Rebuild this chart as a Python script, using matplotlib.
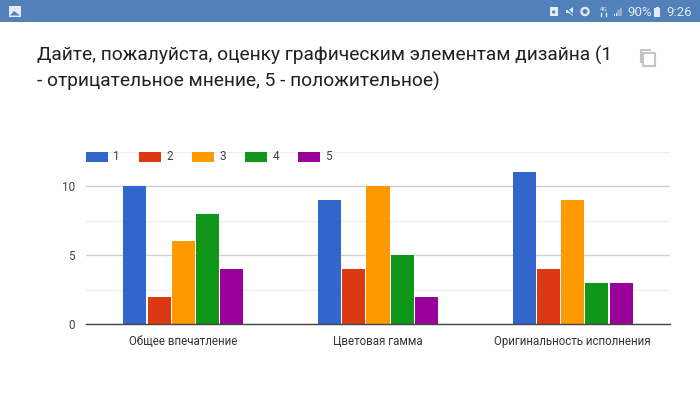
import numpy as np
import matplotlib
matplotlib.use("Agg")
import matplotlib.pyplot as plt
from matplotlib.patches import Rectangle, Circle, Polygon

plt.rcParams['font.family'] = ['Roboto', 'DejaVu Sans']

# chart data
categories = ["Общее впечатление", "Цветовая гамма", "Оригинальность исполнения"]
series_names = ["1", "2", "3", "4", "5"]
colors = ["#3366cc", "#dc3912", "#ff9900", "#109618", "#990099"]
values_1 = [10, 9, 11]
values_2 = [2, 4, 4]
values_3 = [6, 10, 9]
values_4 = [8, 5, 3]
values_5 = [4, 2, 3]
all_values = [values_1, values_2, values_3, values_4, values_5]
y_ticks = [0, 5, 10]
minor_ticks = [2.5, 7.5, 12.5]

title_lines = ["Дайте, пожалуйста, оценку графическим элементам дизайна (1",
               "- отрицательное мнение, 5 - положительное)"]

W, H = 700, 393
bar_color = "#5280b8"
fig = plt.figure(figsize=(W / 100, H / 100), dpi=100, facecolor="white")

# overlay in pixel coords for the phone screen parts
bg = fig.add_axes([0, 0, 1, 1])
bg.set_xlim(0, W)
bg.set_ylim(H, 0)
bg.axis("off")
bg.set_zorder(2)  # legend has to sit on top of the top gridline

# status bar
bg.add_patch(Rectangle((0, 0), W, 22, color=bar_color, lw=0))
icon = "#e4ebf4"
bg.add_patch(Rectangle((9, 6), 12, 10.5, color=icon, lw=0))
bg.add_patch(Polygon([[10, 15.5], [14, 11], [20, 15.5]], color=bar_color, lw=0))
bg.add_patch(Rectangle((550, 7), 7.5, 9, color=icon, lw=0))
bg.add_patch(Circle((553.7, 12), 1.6, color=bar_color, lw=0))
bg.add_patch(Polygon([[566, 10], [569, 10], [573, 7], [573, 16], [569, 13], [566, 13]], color=icon, lw=0))
bg.plot([565, 575], [7, 16], color=bar_color, lw=1)
bg.add_patch(Circle((585, 11.5), 3.6, fc=bar_color, ec=icon, lw=1.6))
bg.text(604, 9.5, "4G", color=icon, fontsize=4.5, ha="center", va="center")
bg.plot([601, 601], [13, 16], color=icon, lw=1)
bg.plot([606, 606], [13, 16], color=icon, lw=1)
bg.add_patch(Polygon([[617, 16], [622, 16], [622, 7], [617, 11]], color="#8fadd0", lw=0))
bg.add_patch(Rectangle((614, 14), 1, 2, color=icon, lw=0))
bg.add_patch(Rectangle((616, 12.5), 1, 3.5, color=icon, lw=0))
bg.text(627, 12, "90%", color=icon, fontsize=9.5, ha="left", va="center")
bg.add_patch(Rectangle((654, 8), 6, 9, color=icon, lw=0))
bg.add_patch(Rectangle((655.5, 6.8), 3, 1.5, color=icon, lw=0))
bg.text(666, 12, "9:26", color=icon, fontsize=9.5, ha="left", va="center")

# title
bg.text(37, 61, title_lines[0], fontsize=13.75, color="#212121", va="baseline", ha="left")
bg.text(37, 87, title_lines[1], fontsize=13.75, color="#212121", va="baseline", ha="left")

# copy icon
bg.add_patch(Rectangle((643, 53), 11.5, 12.5, fc="white", ec="#c4c4c4", lw=1.5))
bg.plot([640.5, 640.5, 650], [62, 49.5, 49.5], color="#c4c4c4", lw=1.5)

# legend
for i, name in enumerate(series_names):
    x = 86 + i * 53
    bg.add_patch(Rectangle((x, 152), 22, 10, color=colors[i], lw=0))
    bg.text(x + 27.5, 157, name, fontsize=8.5, color="#444444", va="center", ha="left")

# the chart itself
ax = fig.add_axes([86 / W, 1 - 324.3 / H, 584 / W, (324.3 - 151.7) / H])
x_pos = np.arange(len(categories))
bar_w = 0.1185
pitch = 0.1245
for i, vals in enumerate(all_values):
    ax.bar(x_pos + (i - 2) * pitch, vals, width=bar_w, color=colors[i], zorder=3)

ax.set_xlim(-0.5, 2.5)
ax.set_ylim(0, 12.5)
ax.set_yticks(y_ticks)
ax.set_yticks(minor_ticks, minor=True)
ax.set_xticks(x_pos)
ax.set_xticklabels(categories)
ax.grid(axis="y", which="major", color="#d0d0d0", lw=1, zorder=0)
ax.grid(axis="y", which="minor", color="#eeeeee", lw=1, zorder=0)
ax.tick_params(axis="both", which="both", length=0)
ax.tick_params(axis="x", labelsize=8.3, labelcolor="#333333", pad=7.5)
ax.tick_params(axis="y", labelsize=8.5, labelcolor="#444444", pad=8)
for s in ["top", "left", "right"]:
    ax.spines[s].set_visible(False)
ax.spines["bottom"].set_color("#444444")
ax.spines["bottom"].set_linewidth(1)
ax.spines["bottom"].set_zorder(5)

fig.savefig("out.png", dpi=100)
